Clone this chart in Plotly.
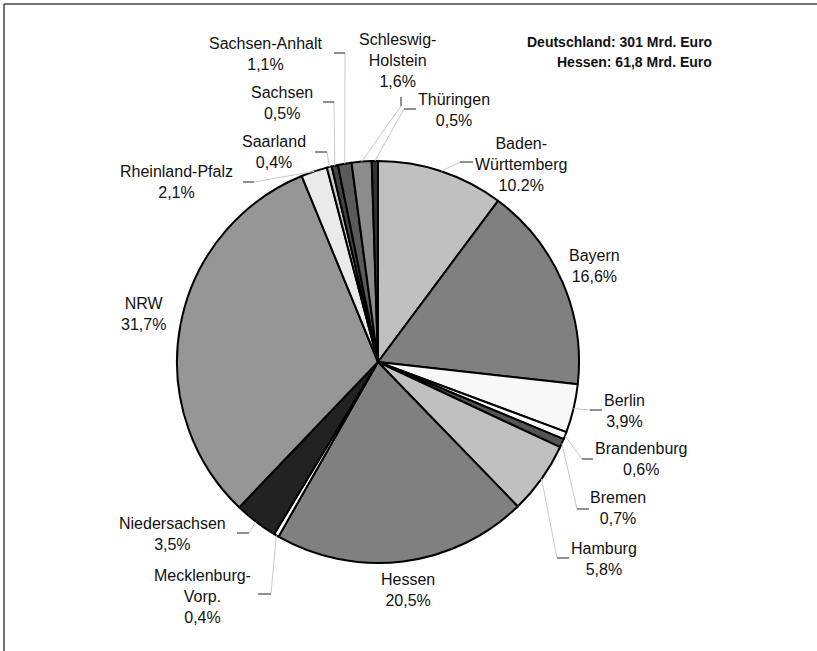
import math
import plotly.graph_objects as go

W, H = 817, 651

bundeslaender = ["Baden-Württemberg", "Bayern", "Berlin", "Brandenburg", "Bremen", "Hamburg",
                 "Hessen", "Mecklenburg-Vorp.", "Niedersachsen", "NRW", "Rheinland-Pfalz",
                 "Saarland", "Sachsen", "Sachsen-Anhalt", "Schleswig-Holstein", "Thüringen"]
anteile = [10.2, 16.6, 3.9, 0.6, 0.7, 5.8, 20.5, 0.4, 3.5, 31.7, 2.1, 0.4, 0.5, 1.1, 1.6, 0.5]
label_texte = ["Baden-<br>Württemberg", "Bayern", "Berlin", "Brandenburg", "Bremen", "Hamburg",
               "Hessen", "Mecklenburg-<br>Vorp.", "Niedersachsen", "NRW", "Rheinland-Pfalz",
               "Saarland", "Sachsen", "Sachsen-Anhalt", "Schleswig-<br>Holstein", "Thüringen"]
farben = ["#c0c0c0", "#808080", "#f8f8f8", "#ffffff", "#555555", "#c0c0c0",
          "#808080", "#ffffff", "#222222", "#969696", "#eaeaea",
          "#c8c8c8", "#444444", "#5a5a5a", "#8c8c8c", "#333333"]
kopf_texte = ["Deutschland: 301 Mrd. Euro", "Hessen: 61,8 Mrd. Euro"]

# Kreismitte und Radius in Pixeln
CX, CY, R = 378, 362, 201

# Label-Mitte (Pixel) und Knick der Führungslinie (Start, Ende des kurzen Strichs)
label_pos = {
    "Baden-Württemberg": (521, 164, (460, 162), (473, 162)),
    "Bayern": (594, 266, None, None),
    "Berlin": (624, 411, (590, 410), (602, 410)),
    "Brandenburg": (641, 459, (582, 459), (593, 459)),
    "Bremen": (618, 508, (577, 509), (589, 509)),
    "Hamburg": (604, 559, (557, 558), (569, 558)),
    "Hessen": (408, 590, None, None),
    "Mecklenburg-Vorp.": (202, 596, (271, 594), (258, 594)),
    "Niedersachsen": (172, 534, (249, 533), (237, 533)),
    "NRW": (143, 314, None, None),
    "Rheinland-Pfalz": (176, 182, (254, 182), (243, 182)),
    "Saarland": (274, 152, (327, 152), (315, 152)),
    "Sachsen": (282, 103, (334, 102), (323, 102)),
    "Sachsen-Anhalt": (266, 54, (345, 53), (334, 53)),
    "Schleswig-Holstein": (397, 61, (401, 106), (401, 97)),
    "Thüringen": (454, 110, (404, 109), (416, 109)),
}


def px(x, y):
    return x / W, 1 - y / H


fig = go.Figure(go.Pie(
    labels=bundeslaender,
    values=anteile,
    sort=False,
    direction="clockwise",
    rotation=0,
    textinfo="none",
    hoverinfo="label+percent",
    marker=dict(colors=farben, line=dict(color="black", width=2)),
    domain=dict(x=[(CX - R) / W, (CX + R) / W], y=[1 - (CY + R) / H, 1 - (CY - R) / H]),
    showlegend=False,
))

shapes = []
annotations = []
summe = sum(anteile)
kum = 0
for name, wert, txt in zip(bundeslaender, anteile, label_texte):
    mitte = (kum + wert / 2) / summe * 2 * math.pi
    kum += wert
    lx, ly, p1, p2 = label_pos[name]
    prozent = f"{wert:.1f}".replace(".", ",") + "%"
    if name == "Baden-Württemberg":
        prozent = "10.2%"  # so im Original
    x, y = px(lx, ly)
    annotations.append(dict(x=x, y=y, xref="paper", yref="paper", text=f"{txt}<br>{prozent}",
                            showarrow=False, xanchor="center", yanchor="middle", align="center",
                            font=dict(family="Liberation Sans", size=16, color="#111111")))
    if p1 is not None:
        sx = CX + R * math.sin(mitte)
        sy = CY - R * math.cos(mitte)
        a = px(sx, sy)
        b = px(*p1)
        c = px(*p2)
        shapes.append(dict(type="line", xref="paper", yref="paper", x0=a[0], y0=a[1], x1=b[0], y1=b[1],
                           line=dict(color="#c8c8c8", width=1)))
        shapes.append(dict(type="line", xref="paper", yref="paper", x0=b[0], y0=b[1], x1=c[0], y1=c[1],
                           line=dict(color="#222222", width=1)))

for i, t in enumerate(kopf_texte):
    x, y = px(714, 42 + 20 * i)
    annotations.append(dict(x=x, y=y, xref="paper", yref="paper", text=f"<b>{t}</b>",
                            showarrow=False, xanchor="right", yanchor="middle",
                            font=dict(family="Liberation Sans", size=14, color="#111111")))

# Rahmen (nur oben und links sichtbar)
ecke = px(4, 4)
for x1, y1 in [(1, ecke[1]), (ecke[0], 0)]:
    shapes.append(dict(type="line", xref="paper", yref="paper", x0=ecke[0], y0=ecke[1], x1=x1, y1=y1,
                       line=dict(color="#444444", width=1.5)))

fig.update_layout(
    width=W, height=H,
    margin=dict(l=0, r=0, t=0, b=0),
    paper_bgcolor="white",
    plot_bgcolor="white",
    shapes=shapes,
    annotations=annotations,
)

fig.write_html("out.html", config={"displayModeBar": False},
               post_script="document.body.style.margin='0';")
